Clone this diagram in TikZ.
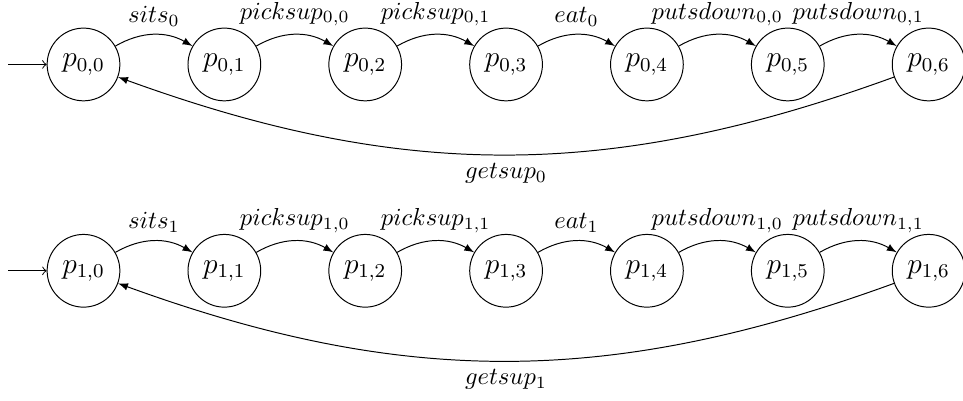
\documentclass[tikz,border=0pt]{standalone}
\usepackage{amsmath,amssymb}
\usepackage{tikz}
\usetikzlibrary{arrows,positioning}

\begin{document}
\begin{tikzpicture}[
    pstate/.style={draw, circle, minimum size=1.04cm, inner sep=1pt, font=\large},
    trans/.style={->, >=latex, bend left=30},
    back/.style={->, >=latex, bend left=20},
    initarrow/.style={->, >=to},
    node distance=0.96cm
]
    \useasboundingbox (-1.194,0.922) rectangle (12.576,-4.798);

    % Philosopher 0
    \node[pstate] (p0_0) at (0,0) {$p_{0,0}$};
    \node[pstate, right=of p0_0] (p0_1) {$p_{0,1}$};
    \node[pstate, right=of p0_1] (p0_2) {$p_{0,2}$};
    \node[pstate, right=of p0_2] (p0_3) {$p_{0,3}$};
    \node[pstate, right=of p0_3] (p0_4) {$p_{0,4}$};
    \node[pstate, right=of p0_4] (p0_5) {$p_{0,5}$};
    \node[pstate, right=of p0_5] (p0_6) {$p_{0,6}$};
    \coordinate[left=0.55cm of p0_0.west] (start0);

    % Philosopher 1
    \node[pstate] (p1_0) at (0,-2.95) {$p_{1,0}$};
    \node[pstate, right=of p1_0] (p1_1) {$p_{1,1}$};
    \node[pstate, right=of p1_1] (p1_2) {$p_{1,2}$};
    \node[pstate, right=of p1_2] (p1_3) {$p_{1,3}$};
    \node[pstate, right=of p1_3] (p1_4) {$p_{1,4}$};
    \node[pstate, right=of p1_4] (p1_5) {$p_{1,5}$};
    \node[pstate, right=of p1_5] (p1_6) {$p_{1,6}$};
    \coordinate[left=0.55cm of p1_0.west] (start1);

    % Transitions
    \draw[initarrow] (start0) -- (p0_0);
    \draw[trans] (p0_0) to node[above] {$sits_0$} (p0_1);
    \draw[trans] (p0_1) to node[above] {$picksup_{0,0}$} (p0_2);
    \draw[trans] (p0_2) to node[above] {$picksup_{0,1}$} (p0_3);
    \draw[trans] (p0_3) to node[above] {$eat_0$} (p0_4);
    \draw[trans] (p0_4) to node[above] {$putsdown_{0,0}$} (p0_5);
    \draw[trans] (p0_5) to node[above] {$putsdown_{0,1}$} (p0_6);
    \draw[back] (p0_6) to node[below] {$getsup_0$} (p0_0);

    \draw[initarrow] (start1) -- (p1_0);
    \draw[trans] (p1_0) to node[above] {$sits_1$} (p1_1);
    \draw[trans] (p1_1) to node[above] {$picksup_{1,0}$} (p1_2);
    \draw[trans] (p1_2) to node[above] {$picksup_{1,1}$} (p1_3);
    \draw[trans] (p1_3) to node[above] {$eat_1$} (p1_4);
    \draw[trans] (p1_4) to node[above] {$putsdown_{1,0}$} (p1_5);
    \draw[trans] (p1_5) to node[above] {$putsdown_{1,1}$} (p1_6);
    \draw[back] (p1_6) to node[below] {$getsup_1$} (p1_0);
\end{tikzpicture}
\end{document}
